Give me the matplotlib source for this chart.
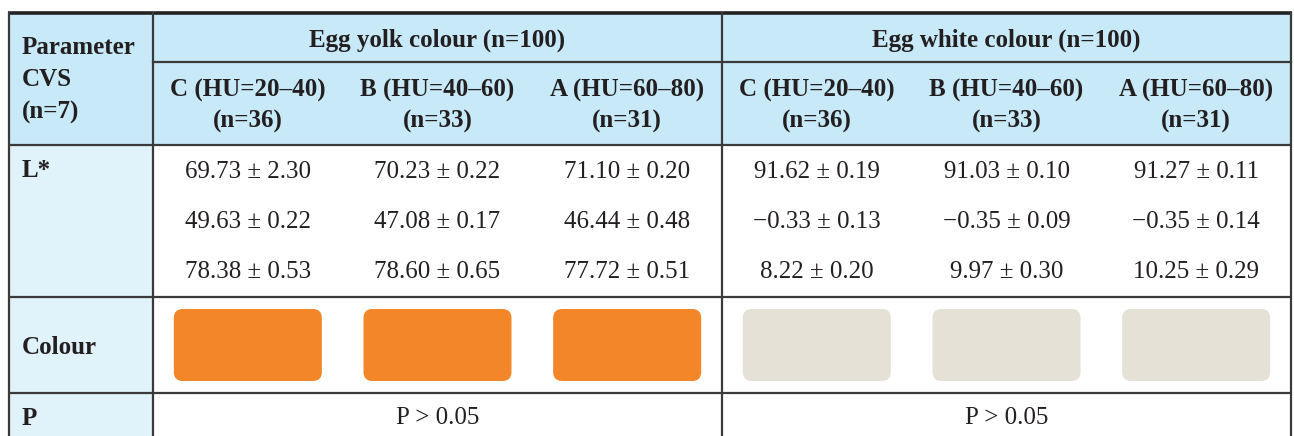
import matplotlib.pyplot as plt
from matplotlib.patches import Rectangle, FancyBboxPatch

# table contents
groups = ['Egg yolk colour (n=100)', 'Egg white colour (n=100)']
grades = ['C (HU=20\u201340)', 'B (HU=40\u201360)', 'A (HU=60\u201380)']
grade_n = ['(n=36)', '(n=33)', '(n=31)']
row_labels = ['L*', 'Colour', 'P']
param_label = ['Parameter', 'CVS', '(n=7)']

yolk_vals = [
    ['69.73 \u00b1 2.30', '70.23 \u00b1 0.22', '71.10 \u00b1 0.20'],
    ['49.63 \u00b1 0.22', '47.08 \u00b1 0.17', '46.44 \u00b1 0.48'],
    ['78.38 \u00b1 0.53', '78.60 \u00b1 0.65', '77.72 \u00b1 0.51'],
]
white_vals = [
    ['91.62 \u00b1 0.19', '91.03 \u00b1 0.10', '91.27 \u00b1 0.11'],
    ['\u22120.33 \u00b1 0.13', '\u22120.35 \u00b1 0.09', '\u22120.35 \u00b1 0.14'],
    ['8.22 \u00b1 0.20', '9.97 \u00b1 0.30', '10.25 \u00b1 0.29'],
]
swatch_colours = [['#f4862a'] * 3, ['#e5e1d6'] * 3]
p_text = ['P > 0.05', 'P > 0.05']

W, H = 1294, 436
fig = plt.figure(figsize=(W / 100, H / 100), dpi=100)
ax = fig.add_axes([0, 0, 1, 1])
ax.set_xlim(0, W)
ax.set_ylim(H, 0)
ax.axis('off')

font = 'Liberation Serif'
fs = 18
head_blue = '#c7e9f8'
side_blue = '#e0f2fa'
line_col = '#3a3a3a'

# grid geometry
x0, x1, xmid, x2 = 9, 153, 722, 1291
y_top, y_h1, y_h2, y_r1, y_r2, y_bot = 13, 62, 145, 297, 393, 440
sub_w = (xmid - x1) / 3
centers = [x1 + sub_w * (i + 0.5) for i in range(3)] + [xmid + sub_w * (i + 0.5) for i in range(3)]

# backgrounds
ax.add_patch(Rectangle((x0, y_top), x2 - x0, y_h2 - y_top, color=head_blue, lw=0))
ax.add_patch(Rectangle((x0, y_h2), x1 - x0, y_bot - y_h2, color=side_blue, lw=0))

# lines
for y in [y_h2, y_r1, y_r2]:
    ax.plot([x0, x2], [y, y], color=line_col, lw=1.6, solid_capstyle='butt')
ax.plot([x1, x2], [y_h1, y_h1], color=line_col, lw=1.6)
ax.plot([x0 - 1, x2 + 1], [y_top, y_top], color='#222222', lw=2.6, solid_capstyle='butt')
for x in [x0, x1, xmid, x2]:
    ax.plot([x, x], [y_top, y_bot], color=line_col, lw=1.6)

# header texts
for i, g in enumerate(groups):
    cx = (x1 + xmid) / 2 if i == 0 else (xmid + x2) / 2
    ax.text(cx, 40, g, ha='center', va='center', fontsize=fs, fontweight='bold', family=font, color='#231f20')
for j, cx in enumerate(centers):
    ax.text(cx, 90, grades[j % 3], ha='center', va='center', fontsize=fs, fontweight='bold', family=font, color='#231f20')
    ax.text(cx, 121, grade_n[j % 3], ha='center', va='center', fontsize=fs, fontweight='bold', family=font, color='#231f20')
for k, t in enumerate(param_label):
    ax.text(22, 48 + k * 32, t, ha='left', va='center', fontsize=fs, fontweight='bold', family=font, color='#231f20')

# row labels
for t, y in zip(row_labels, [170, 347, 418]):
    ax.text(22, y, t, ha='left', va='center', fontsize=fs, fontweight='bold', family=font, color='#231f20')

# values
for r in range(3):
    y = 172 + r * 50
    for j in range(3):
        ax.text(centers[j], y, yolk_vals[r][j], ha='center', va='center', fontsize=fs, family=font, color='#231f20')
        ax.text(centers[j + 3], y, white_vals[r][j], ha='center', va='center', fontsize=fs, family=font, color='#231f20')

# colour swatches
sw, sh = 148, 72
for g in range(2):
    for j in range(3):
        cx = centers[g * 3 + j]
        ax.add_patch(FancyBboxPatch((cx - sw / 2, 309), sw, sh,
                                    boxstyle='round,pad=0,rounding_size=9',
                                    fc=swatch_colours[g][j], ec='none'))

# P row
ax.text((x1 + xmid) / 2, 418, p_text[0], ha='center', va='center', fontsize=fs, family=font, color='#231f20')
ax.text((xmid + x2) / 2, 418, p_text[1], ha='center', va='center', fontsize=fs, family=font, color='#231f20')

fig.savefig('out.png', dpi=100)
